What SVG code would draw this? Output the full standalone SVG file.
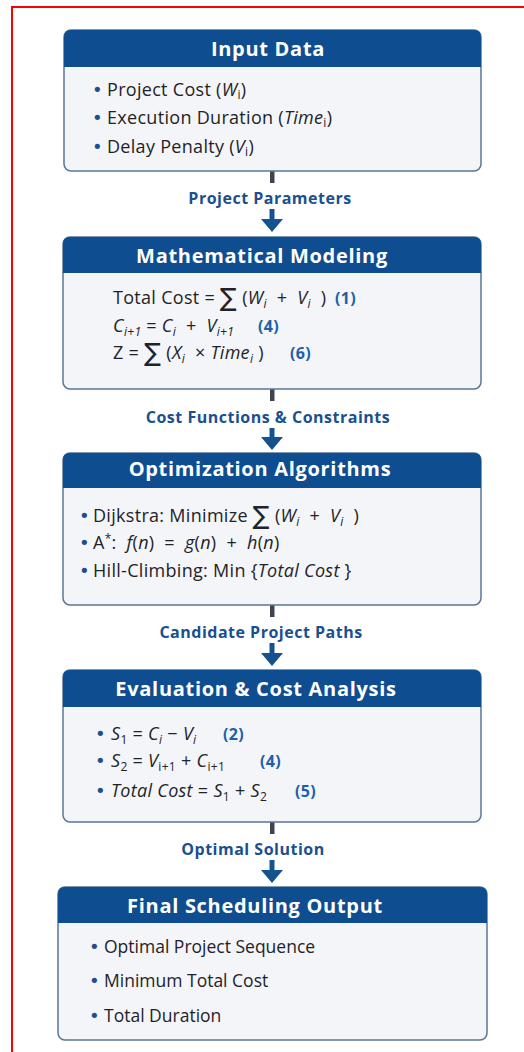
<svg xmlns="http://www.w3.org/2000/svg" width="524" height="1052" viewBox="0 0 524 1052">
<style>
.title{font-family:"Open Sans","Noto Sans",sans-serif;font-weight:700;font-size:20px;letter-spacing:0.7px;fill:#ffffff;text-anchor:middle}
.body{font-family:"Open Sans","Noto Sans",sans-serif;font-size:18px;letter-spacing:0.3px;fill:#1f2329}
.b5{font-size:17.5px;letter-spacing:0}
.bul{font-family:"DejaVu Sans",sans-serif;font-size:18px;fill:#1d4f8c}
.i{font-style:italic}
.sub{font-size:12px}
.sum{font-family:"DejaVu Sans",sans-serif;font-size:25px}
.eq{font-weight:700;font-size:16px;fill:#1d5fa8}
.lbl{font-family:"Open Sans","Noto Sans",sans-serif;font-weight:700;font-size:16px;letter-spacing:0.5px;fill:#1b4f90;text-anchor:middle}
.bodybox{fill:#f3f5f8;stroke:#5b7697;stroke-width:1.5}
.head{fill:#0f4d91}
.stub{fill:#3e4550}
.arrow{fill:#16528f}
</style>
<rect x="12" y="7" width="530" height="1070" fill="#ffffff" stroke="#ff0000" stroke-width="2"/>

<g id="connectors">
  <rect class="stub" x="270" y="171" width="4.5" height="12"/>
  <text class="lbl" x="270" y="204">Project Parameters</text>
  <rect class="arrow" x="269.5" y="209" width="5" height="11"/>
  <polygon class="arrow" points="261,219 283,219 272,232"/>

  <rect class="stub" x="270" y="389" width="4.5" height="12"/>
  <text class="lbl" x="268" y="423">Cost Functions &amp; Constraints</text>
  <rect class="arrow" x="269.5" y="428" width="5" height="10"/>
  <polygon class="arrow" points="261,437 283,437 272,450"/>

  <rect class="stub" x="270" y="605" width="4.5" height="12"/>
  <text class="lbl" x="261" y="638">Candidate Project Paths</text>
  <rect class="arrow" x="269.5" y="643" width="5" height="11"/>
  <polygon class="arrow" points="261,653 283,653 272,666"/>

  <rect class="stub" x="270" y="822" width="4.5" height="12"/>
  <text class="lbl" x="253" y="855">Optimal Solution</text>
  <rect class="arrow" x="269.5" y="860" width="5" height="11"/>
  <polygon class="arrow" points="261,870 283,870 272,883"/>
</g>

<g id="input-data">
  <rect class="bodybox" x="64" y="30" width="417" height="141" rx="7"/>
  <path class="head" d="M64,67 V37 Q64,30 71,30 H474 Q481,30 481,37 V67 Z"/>
  <text class="title" x="268" y="56">Input Data</text>
  <text class="bul" x="92" y="96">•</text>
  <text class="body" x="107" y="96">Project Cost (<tspan class="i">W</tspan><tspan class="sub" dy="3">i</tspan><tspan dy="-3">)</tspan></text>
  <text class="bul" x="92" y="124">•</text>
  <text class="body" x="107" y="124">Execution Duration (<tspan class="i">Time</tspan><tspan class="sub" dy="3">i</tspan><tspan dy="-3">)</tspan></text>
  <text class="bul" x="92" y="153">•</text>
  <text class="body" x="107" y="153">Delay Penalty (<tspan class="i">V</tspan><tspan class="sub" dy="3">i</tspan><tspan dy="-3">)</tspan></text>
</g>

<g id="mathematical-modeling">
  <rect class="bodybox" x="63" y="237" width="418" height="152" rx="7"/>
  <path class="head" d="M63,273 V244 Q63,237 70,237 H474 Q481,237 481,244 V273 Z"/>
  <text class="title" x="262" y="263">Mathematical Modeling</text>
  <text class="body" x="113" y="304">Total Cost = <tspan class="sum" dy="2">∑</tspan><tspan dy="-2">&#160;(</tspan><tspan class="i">W</tspan><tspan class="sub i" dy="4">i</tspan><tspan dy="-4">&#160;&#160;+&#160;&#160;</tspan><tspan class="i">V</tspan><tspan class="sub i" dy="4">i</tspan><tspan dy="-4">&#160;&#160;)</tspan><tspan class="eq" x="335">(1)</tspan></text>
  <text class="body" x="113" y="332"><tspan class="i">C</tspan><tspan class="sub i" dy="4">i+1</tspan><tspan dy="-4">&#160;=&#160;</tspan><tspan class="i">C</tspan><tspan class="sub i" dy="4">i</tspan><tspan dy="-4">&#160;&#160;+&#160;&#160;</tspan><tspan class="i">V</tspan><tspan class="sub i" dy="4">i+1</tspan><tspan class="eq" dy="-4" x="258">(4)</tspan></text>
  <text class="body" x="113" y="359">Z = <tspan class="sum" dy="2">∑</tspan><tspan dy="-2">&#160;(</tspan><tspan class="i">X</tspan><tspan class="sub i" dy="4">i</tspan><tspan dy="-4">&#160;&#160;×&#160;</tspan><tspan class="i">Time</tspan><tspan class="sub i" dy="4">i</tspan><tspan dy="-4">&#160;)</tspan><tspan class="eq" x="290">(6)</tspan></text>
</g>

<g id="optimization-algorithms">
  <rect class="bodybox" x="63" y="453" width="418" height="152" rx="7"/>
  <path class="head" d="M63,488 V460 Q63,453 70,453 H474 Q481,453 481,460 V488 Z"/>
  <text class="title" x="260" y="476">Optimization Algorithms</text>
  <text class="bul" x="79" y="522">•</text>
  <text class="body" x="93" y="522">Dijkstra: Minimize <tspan class="sum" dy="2">∑</tspan><tspan dy="-2">&#160;(</tspan><tspan class="i">W</tspan><tspan class="sub i" dy="4">i</tspan><tspan dy="-4">&#160;&#160;+&#160;&#160;</tspan><tspan class="i">V</tspan><tspan class="sub i" dy="4">i</tspan><tspan dy="-4">&#160;&#160;)</tspan></text>
  <text class="bul" x="79" y="549">•</text>
  <text class="body" x="93" y="549">A<tspan class="sub" dy="-6">*</tspan><tspan dy="6">:&#160;&#160;</tspan><tspan class="i">f</tspan>(<tspan class="i">n</tspan>)&#160;&#160;=&#160;&#160;<tspan class="i">g</tspan>(<tspan class="i">n</tspan>)&#160;&#160;+&#160;&#160;<tspan class="i">h</tspan>(<tspan class="i">n</tspan>)</text>
  <text class="bul" x="79" y="577">•</text>
  <text class="body" x="93" y="577">Hill-Climbing: Min {<tspan class="i">Total Cost</tspan>&#160;}</text>
</g>

<g id="evaluation-cost-analysis">
  <rect class="bodybox" x="63" y="670" width="418" height="152" rx="7"/>
  <path class="head" d="M63,707 V677 Q63,670 70,670 H474 Q481,670 481,677 V707 Z"/>
  <text class="title" x="256" y="696">Evaluation &amp; Cost Analysis</text>
  <text class="bul" x="95" y="740">•</text>
  <text class="body" x="111" y="740"><tspan class="i">S</tspan><tspan class="sub" dy="4">1</tspan><tspan dy="-4">&#160;=&#160;</tspan><tspan class="i">C</tspan><tspan class="sub i" dy="4">i</tspan><tspan dy="-4">&#160;−&#160;</tspan><tspan class="i">V</tspan><tspan class="sub i" dy="4">i</tspan><tspan class="eq" dy="-4" x="223">(2)</tspan></text>
  <text class="bul" x="95" y="767">•</text>
  <text class="body" x="111" y="767"><tspan class="i">S</tspan><tspan class="sub" dy="4">2</tspan><tspan dy="-4">&#160;=&#160;</tspan><tspan class="i">V</tspan><tspan class="sub" dy="4">i+1</tspan><tspan dy="-4">&#160;+&#160;</tspan><tspan class="i">C</tspan><tspan class="sub" dy="4">i+1</tspan><tspan class="eq" dy="-4" x="260">(4)</tspan></text>
  <text class="bul" x="95" y="797">•</text>
  <text class="body" x="111" y="797"><tspan class="i">Total Cost</tspan>&#160;=&#160;<tspan class="i">S</tspan><tspan class="sub" dy="4">1</tspan><tspan dy="-4">&#160;+&#160;</tspan><tspan class="i">S</tspan><tspan class="sub" dy="4">2</tspan><tspan class="eq" dy="-4" x="295">(5)</tspan></text>
</g>

<g id="final-scheduling-output">
  <rect class="bodybox" x="58" y="887" width="429" height="153" rx="7"/>
  <path class="head" d="M58,923 V894 Q58,887 65,887 H480 Q487,887 487,894 V923 Z"/>
  <text class="title" x="255" y="913">Final Scheduling Output</text>
  <text class="bul" x="89" y="953">•</text>
  <text class="body b5" x="104" y="953">Optimal Project Sequence</text>
  <text class="bul" x="89" y="987">•</text>
  <text class="body b5" x="104" y="987">Minimum Total Cost</text>
  <text class="bul" x="89" y="1022">•</text>
  <text class="body b5" x="104" y="1022">Total Duration</text>
</g>
</svg>
